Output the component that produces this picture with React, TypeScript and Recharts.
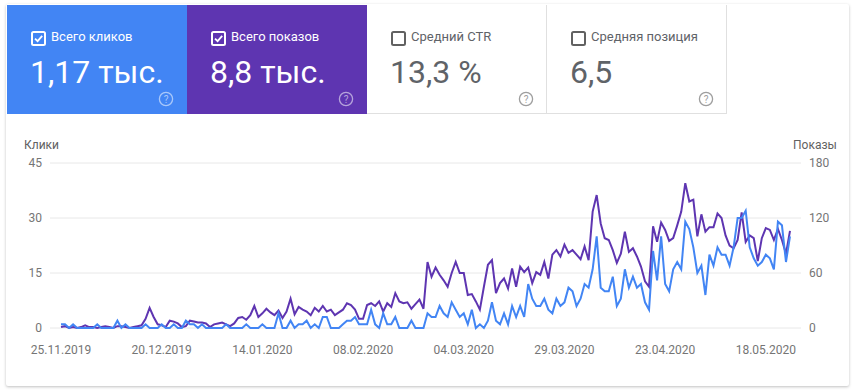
import type { JSX } from 'react';
import { LineChart, Line, XAxis, YAxis, CartesianGrid } from 'recharts';

// daily values, 25.11.2019 .. 25.05.2020
const clicks: number[] = [
    1, 1, 0, 1, 0, 0, 0, 0, 0, 1,
    0, 0, 0, 0, 2, 0, 1, 0, 0, 0,
    0, 1, 0, 0, 0, 1, 0, 0, 1, 0,
    0, 2, 1, 1, 0, 1, 0, 0, 0, 0,
    0, 1, 0, 0, 0, 0, 1, 0, 0, 0,
    1, 0, 0, 0, 4, 0, 0, 2, 0, 1,
    1, 2, 0, 1, 0, 3, 3, 0, 0, 0,
    1, 2, 2, 3, 1, 1, 1, 5, 1, 0,
    4, 1, 1, 3, 0, 0, 0, 2, 0, 0,
    0, 4, 3, 3, 6, 4, 3, 7, 5, 3,
    4, 1, 5, 0, 1, 0, 2, 7, 2, 1,
    4, 1, 6, 3, 6, 3, 12, 8, 6, 6,
    8, 5, 4, 8, 6, 7, 11, 10, 6, 8,
    12, 11, 16, 25, 11, 10, 10, 14, 6, 8,
    16, 11, 14, 11, 12, 7, 5, 21, 13, 25,
    12, 10, 16, 18, 16, 29, 27, 22, 15, 17,
    9, 20, 17, 22, 20, 20, 17, 22, 30, 30,
    32, 22, 19, 17, 18, 20, 19, 16, 29, 28,
    18, 25,
];

const impressions: number[] = [
    1, 2, 0, 1, 0, 1, 3, 1, 1, 0,
    1, 2, 1, 0, 2, 2, 1, 0, 1, 2,
    3, 10, 22, 12, 4, 3, 1, 8, 7, 5,
    1, 2, 8, 7, 6, 6, 5, 1, 4, 5,
    6, 4, 2, 5, 11, 12, 9, 14, 24, 12,
    16, 21, 17, 14, 19, 11, 18, 32, 15, 23,
    20, 18, 14, 22, 18, 24, 18, 20, 14, 17,
    20, 27, 25, 20, 10, 10, 25, 27, 24, 29,
    18, 27, 23, 38, 29, 27, 28, 21, 26, 31,
    21, 72, 56, 66, 58, 52, 45, 60, 72, 60,
    60, 36, 37, 29, 20, 45, 69, 74, 38, 49,
    54, 43, 65, 45, 67, 61, 66, 49, 61, 58,
    72, 54, 80, 85, 78, 91, 82, 85, 80, 75,
    89, 74, 127, 145, 114, 98, 96, 85, 71, 81,
    105, 83, 87, 78, 67, 51, 45, 111, 94, 115,
    107, 95, 98, 112, 127, 158, 138, 140, 100, 124,
    105, 110, 110, 125, 120, 101, 90, 87, 96, 126,
    94, 101, 98, 73, 98, 109, 107, 96, 108, 96,
    81, 106,
];

const clickTicks = [0, 15, 30, 45];
const impressionTicks = [0, 60, 120, 180];

const metrics = [
    { label: 'Всего кликов', value: '1,17 тыс.', bg: '#4285f4', checked: true },
    { label: 'Всего показов', value: '8,8 тыс.', bg: '#5e35b1', checked: true },
    { label: 'Средний CTR', value: '13,3 %', bg: '#ffffff', checked: false },
    { label: 'Средняя позиция', value: '6,5', bg: '#ffffff', checked: false },
];

const pad = (n: number): string => (n < 10 ? '0' + n : String(n));
const fmtDate = (d: Date): string =>
    `${pad(d.getUTCDate())}.${pad(d.getUTCMonth() + 1)}.${d.getUTCFullYear()}`;

const start = Date.UTC(2019, 10, 25);
const data = clicks.map((c, i) => ({
    date: fmtDate(new Date(start + i * 86400000)),
    clicks: c,
    impressions: impressions[i],
}));

const FONT = 'Roboto, "Noto Sans", sans-serif';

function CheckBox({ checked, color }: { checked: boolean; color: string }): JSX.Element {
    return (
        <svg width={15} height={15} style={{ position: 'absolute', left: 24, top: 26 }}>
            <rect x={1} y={1} width={13} height={13} rx={1.5} fill="none" stroke={color} strokeWidth={2} />
            {checked && <path d="M4 7.6 L6.6 10.2 L11.2 4.8" fill="none" stroke={color} strokeWidth={1.8} />}
        </svg>
    );
}

function Help({ color }: { color: string }): JSX.Element {
    return (
        <svg width={16} height={16} style={{ position: 'absolute', left: 151, top: 86 }}>
            <circle cx={8} cy={8} r={6.6} fill="none" stroke={color} strokeWidth={1.3} />
            <text x={8} y={11.5} textAnchor="middle" fontSize={10} fill={color} fontFamily={FONT}>?</text>
        </svg>
    );
}

export default function App(): JSX.Element {
    return (
        <div style={{ position: 'absolute', left: 0, top: 0, width: 857, height: 390, background: '#fff', fontFamily: FONT }}>
            <div style={{
                position: 'absolute', left: 6, top: 4, width: 843, height: 382,
                background: '#fff', boxShadow: '0 1px 3px rgba(0,0,0,0.25)', borderRadius: 2,
            }} />
            {metrics.map((m, i) => {
                const colored = m.checked;
                const fg = colored ? '#ffffff' : '#5f6368';
                return (
                    <div key={m.label} style={{
                        position: 'absolute', left: 7 + i * 180, top: 5, width: 180, height: 109,
                        background: m.bg, boxSizing: 'border-box',
                        borderRight: colored ? 'none' : '1px solid #e0e0e0',
                        borderBottom: colored ? 'none' : '1px solid #e0e0e0',
                    }}>
                        <CheckBox checked={m.checked} color={colored ? '#ffffff' : '#616161'} />
                        <div style={{ position: 'absolute', left: 44, top: 24, fontSize: 13, color: fg, whiteSpace: 'nowrap' }}>{m.label}</div>
                        <div style={{ position: 'absolute', left: 23, top: 48, fontSize: 32, color: fg, whiteSpace: 'nowrap' }}>{m.value}</div>
                        <Help color={colored ? 'rgba(255,255,255,0.55)' : '#9e9e9e'} />
                    </div>
                );
            })}
            <div style={{ position: 'absolute', left: 24, top: 138, fontSize: 12, color: '#616161' }}>Клики</div>
            <div style={{ position: 'absolute', left: 793, top: 138, fontSize: 12, color: '#616161' }}>Показы</div>
            <div style={{ position: 'absolute', left: 0, top: 120 }}>
                <LineChart width={857} height={270} data={data} margin={{ top: 43, right: 0, bottom: 32, left: 0 }}>
                    <CartesianGrid yAxisId="left" vertical={false} stroke="#e8e8e8" />
                    <XAxis dataKey="date" interval={24} axisLine={false} tickLine={false} tickMargin={11}
                        height={30} padding={{ left: 11, right: 11 }}
                        tick={{ fill: '#757575', fontSize: 12, fontFamily: FONT }} />
                    <YAxis yAxisId="left" domain={[0, 45]} ticks={clickTicks} width={50} axisLine={false} tickLine={false}
                        tick={{ fill: '#757575', fontSize: 12, fontFamily: FONT }} />
                    <YAxis yAxisId="right" orientation="right" domain={[0, 180]} ticks={impressionTicks} width={56}
                        axisLine={false} tickLine={false}
                        tick={{ fill: '#757575', fontSize: 12, fontFamily: FONT, textAnchor: 'start' }} />
                    <Line yAxisId="right" dataKey="impressions" stroke="#5e35b1" strokeWidth={2} dot={false}
                        type="linear" isAnimationActive={false} />
                    <Line yAxisId="left" dataKey="clicks" stroke="#4285f4" strokeWidth={2} dot={false}
                        type="linear" isAnimationActive={false} />
                </LineChart>
            </div>
        </div>
    );
}
